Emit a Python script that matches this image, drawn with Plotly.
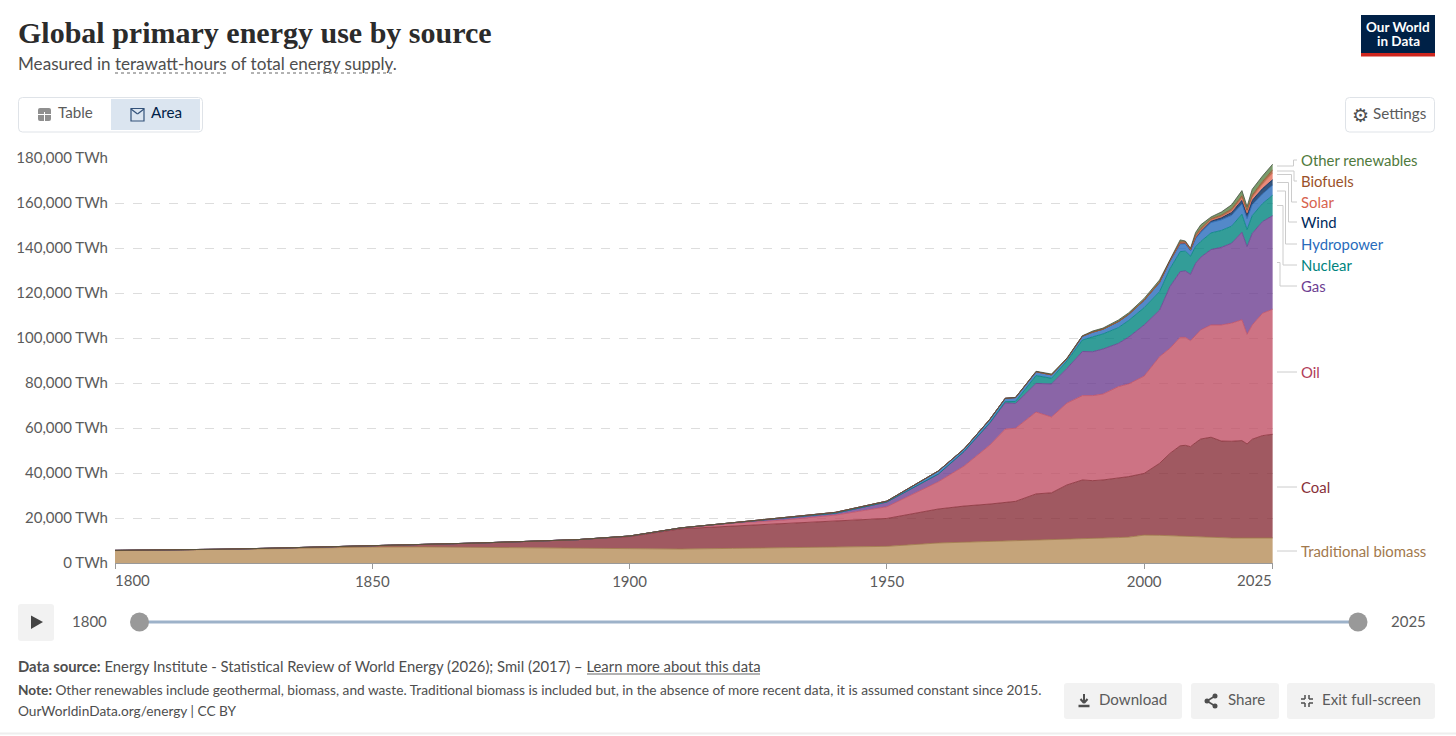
import plotly.graph_objects as go

W, H = 1456, 736

years = [1800, 1810, 1820, 1830, 1840, 1850, 1860, 1870, 1880, 1890, 1900, 1910, 1920, 1930, 1940, 1950, 1960,
         1965, 1970, 1973, 1975, 1979, 1982, 1985, 1988, 1990, 1992, 1995, 1997, 2000, 2003, 2005, 2007, 2008, 2009,
         2010, 2011, 2013, 2015, 2017, 2019, 2020, 2021, 2023, 2025]

biomass = [5500, 5700, 5950, 6300, 6700, 7100, 7150, 6950, 6600, 6350, 6100, 6200, 6500, 6800, 7000, 7400, 8900,
           9200, 9500, 9700, 9900, 10200, 10300, 10500, 10600, 10800, 11000, 11300, 11500, 12400, 12300, 12100, 11900, 11800, 11700,
           11600, 11500, 11300, 11200, 11111, 11111, 11111, 11111, 11111, 11111]
coal = [100, 100, 150, 250, 350, 550, 1000, 1900, 3000, 4050, 5650, 9000, 9900, 10800, 11600, 12400, 15100,
        16100, 16700, 17100, 17500, 20500, 20900, 24200, 26300, 25800, 25900, 26500, 26900, 27400, 32000, 36600, 40200, 40500, 40000,
        41900, 43600, 44600, 43000, 43000, 43300, 41800, 43900, 45500, 46100]
oil = [0, 0, 0, 0, 0, 0, 0, 0, 0, 0, 180, 300, 1150, 1500, 2700, 5200, 12100,
       17800, 26200, 32700, 32500, 36400, 33700, 36400, 37500, 37800, 38200, 40600, 41200, 43300, 47400, 46700, 48200, 48000, 47100,
       47800, 48500, 49900, 51600, 52500, 53700, 48700, 50800, 54400, 55600]
gas = [0, 0, 0, 0, 0, 0, 0, 0, 0, 0, 60, 100, 300, 800, 800, 2100, 3400,
       6400, 9700, 11700, 11000, 12700, 14700, 15400, 19600, 19500, 20000, 19200, 20800, 22700, 20700, 27400, 29200, 29500, 29500,
       31900, 32300, 33500, 34500, 35500, 38900, 39000, 40700, 40700, 41600]
nuclear = [0, 0, 0, 0, 0, 0, 0, 0, 0, 0, 0, 0, 0, 0, 0, 0, 20,
           60, 200, 500, 900, 3500, 2500, 3300, 5100, 6600, 6700, 7000, 7400, 7700, 8200, 7900, 8900, 8800, 8100,
           7400, 7000, 7400, 7500, 7600, 8000, 7600, 7900, 8000, 9100]
hydropower = [0, 0, 0, 0, 0, 0, 0, 0, 0, 0, 10, 30, 50, 200, 400, 400, 1380,
              1130, 1500, 1500, 1700, 1700, 1500, 1000, 1700, 2100, 2100, 2700, 2700, 3200, 4000, 3300, 3400, 3300, 2400,
              3500, 4000, 4600, 4700, 4800, 4600, 4800, 4800, 4300, 4500]
wind = [0, 0, 0, 0, 0, 0, 0, 0, 0, 0, 0, 0, 0, 0, 0, 0, 0,
        0, 0, 0, 0, 0, 0, 0, 0, 0, 0, 0, 0, 50, 100, 200, 350, 350, 300,
        600, 700, 800, 1000, 1300, 1600, 1800, 2000, 2400, 2400]
solar = [0, 0, 0, 0, 0, 0, 0, 0, 0, 0, 0, 0, 0, 0, 0, 0, 0,
         0, 0, 0, 0, 0, 0, 0, 0, 0, 0, 0, 0, 0, 0, 0, 20, 30, 50,
         100, 100, 200, 300, 500, 800, 900, 1100, 1800, 3000]
biofuels = [0, 0, 0, 0, 0, 0, 0, 0, 0, 0, 0, 0, 0, 0, 0, 0, 0,
            0, 10, 0, 0, 0, 0, 0, 0, 0, 0, 0, 0, 100, 200, 200, 550, 500, 300,
            900, 1000, 700, 800, 1000, 1200, 1100, 1200, 1300, 1400]
other_renewables = [0, 0, 0, 0, 0, 0, 0, 0, 0, 0, 0, 0, 0, 0, 0, 0, 0,
                    0, 30, 0, 100, 200, 400, 300, 200, 500, 500, 700, 700, 750, 900, 300, 880, 320, 450,
                    1200, 1600, 800, 1400, 1900, 2300, 1600, 2600, 2500, 2500]

y_ticks = list(range(0, 180001, 20000))
y_labels = ["0 TWh", "20,000 TWh", "40,000 TWh", "60,000 TWh", "80,000 TWh", "100,000 TWh", "120,000 TWh",
            "140,000 TWh", "160,000 TWh", "180,000 TWh"]

names = ["Traditional biomass", "Coal", "Oil", "Gas", "Nuclear", "Hydropower", "Wind", "Solar", "Biofuels", "Other renewables"]
values = [biomass, coal, oil, gas, nuclear, hydropower, wind, solar, biofuels, other_renewables]
colors = ["#b68d59", "#883039", "#c15065", "#6d3e91", "#00847e", "#286bbb", "#00295b", "#e56e5a", "#9a5129", "#578145"]
edge_colors = ["#a07a48", "#883039", "#c15065", "#6d3e91", "#00847e", "#286bbb", "#00295b", "#e56e5a", "#9a5129", "#454f40"]
label_colors = ["#a2794d", "#883039", "#b13c59", "#6d3e91", "#00847e", "#286bbb", "#00295b", "#d7634f", "#9a5129", "#4f7a3d"]

FONT = "Lato, 'Open Sans', sans-serif"
GREY = "#5b5b5b"


def hex_rgba(c, a):
    return f"rgba({int(c[1:3], 16)},{int(c[3:5], 16)},{int(c[5:7], 16)},{a})"


def px(x):
    return x / W


def py(y):
    return 1 - y / H


shapes = []
annotations = []


def rect(x0, y0, x1, y1, fill="rgba(0,0,0,0)", line=None, width=1, r=0):
    # rounded box as a path, in paper fractions
    corners = [
        f"M {px(x0 + r)} {py(y0)} L {px(x1 - r)} {py(y0)} Q {px(x1)} {py(y0)} {px(x1)} {py(y0 + r)}",
        f"L {px(x1)} {py(y1 - r)} Q {px(x1)} {py(y1)} {px(x1 - r)} {py(y1)}",
        f"L {px(x0 + r)} {py(y1)} Q {px(x0)} {py(y1)} {px(x0)} {py(y1 - r)}",
        f"L {px(x0)} {py(y0 + r)} Q {px(x0)} {py(y0)} {px(x0 + r)} {py(y0)} Z",
    ]
    shapes.append(dict(type="path", xref="paper", yref="paper", path=" ".join(corners), fillcolor=fill,
                       line=dict(color=line or "rgba(0,0,0,0)", width=width if line else 0), layer="above"))


def line(x0, y0, x1, y1, color="#ccc", width=1, dash="solid"):
    shapes.append(dict(type="line", xref="paper", yref="paper", x0=px(x0), x1=px(x1), y0=py(y0), y1=py(y1),
                       line=dict(color=color, width=width, dash=dash), layer="above"))


def text(x, y, s, size=14, color=GREY, anchor="left", family=FONT):
    if anchor == "left":
        x -= 1
    annotations.append(dict(xref="paper", yref="paper", x=px(x), y=py(y), text=s, showarrow=False, xanchor=anchor,
                            yanchor="middle", align=anchor, borderpad=0,
                            font=dict(family=family, size=size, color=color)))


fig = go.Figure()
for name, vals, c, e in zip(names, values, colors, edge_colors):
    fig.add_trace(go.Scatter(x=years, y=vals, name=name, mode="lines", stackgroup="one",
                             line=dict(color=e, width=0.8), fillcolor=hex_rgba(c, 0.8), hoverinfo="skip"))

# header
text(18, 32.5, "<b>Global primary energy use by source</b>", size=30, color="#2b2b2b", family="'Liberation Serif', serif")
text(18, 64, "Measured in terawatt-hours of total energy supply.", size=17.1, color="#4e4e4e")
line(115, 73, 227, 73, color="#666", dash="dot")
line(251, 73, 394, 73, color="#666", dash="dot")

# logo
rect(1361, 15, 1435, 53, fill="#002147")
rect(1361, 53, 1435, 56.5, fill="#ce261e")
text(1398, 27, "<b>Our World</b>", size=13.5, color="#ffffff", anchor="center")
text(1398, 41, "<b>in Data</b>", size=13.5, color="#ffffff", anchor="center")

# toggle
rect(18.5, 97.5, 202.5, 132, fill="#ffffff", line="#dfe3e8", r=4)
rect(111, 99, 200, 130, fill="#dbe5f0")
rect(38, 108, 51, 121, fill="#8f8f8f", r=2)
line(38, 114.5, 51, 114.5, color="#ffffff")
line(44.5, 112, 44.5, 121, color="#ffffff")
text(58, 112.5, "Table", size=15.2)
rect(131, 108.5, 144, 121, line="#33527a", width=1.2)
line(131, 109, 137.5, 114, color="#33527a", width=1.2)
line(137.5, 114, 144, 109, color="#33527a", width=1.2)
text(151, 112.5, "Area", size=15.2, color="#002147")

# settings
rect(1345.5, 97.5, 1434.5, 132, fill="#ffffff", line="#dfe3e8", r=4)
text(1352, 114.5, "⚙", size=19, color="#4e4e4e", family="'DejaVu Sans'")
text(1373, 113, "Settings", size=15.2)

# x tick labels at the ends are pulled inside
text(115, 580, "1800", size=15)
text(1272.5, 580, "2025", size=15, anchor="right")

# connectors and series labels
label_y = [551, 487, 372, 286, 265, 244, 222, 202, 181, 160]
start_y = [551, 487, 372, 262.5, 205.5, 191, 182.5, 174.5, 171, 166]
elbow_x = [None, None, None, 1280, 1283, 1285.5, 1288.5, 1291.5, 1294, 1293.5]
for name, ly, sy, ex, c in zip(names, label_y, start_y, elbow_x, label_colors):
    text(1301, ly, name, size=14.9, color=c)
    if ex is None:
        line(1277, ly, 1297, ly)
    else:
        line(1277, sy, ex, sy)
        line(ex, sy, ex, ly)
        line(ex, ly, 1297, ly)

# time slider
rect(18, 604, 54, 641, fill="#f2f2f2", r=3)
shapes.append(dict(type="path", xref="paper", yref="paper", fillcolor="#444444", line=dict(width=0), layer="above",
                   path=f"M {px(31)} {py(615.5)} L {px(43)} {py(622)} L {px(31)} {py(629)} Z"))
text(72, 621, "1800", size=15)
text(1391, 621, "2025", size=15)
line(148, 622, 1350, 622, color="#9db2c9", width=3)
for cx in (139.5, 1358):
    shapes.append(dict(type="circle", xref="paper", yref="paper", x0=px(cx - 9.5), x1=px(cx + 9.5), y0=py(622 + 9.5),
                       y1=py(622 - 9.5), fillcolor="#999999", line=dict(width=0), layer="above"))

# footer
text(18, 666, "<b>Data source:</b> Energy Institute - Statistical Review of World Energy (2026); Smil (2017) – Learn more about this data", size=14.83, color="#4e4e4e")
line(587, 674, 760, 674, color="#666")
text(18, 689.5, "<b>Note:</b> Other renewables include geothermal, biomass, and waste. Traditional biomass is included but, in the absence of more recent data, it is assumed constant since 2015.", size=13.7, color="#4e4e4e")
text(18, 710, "OurWorldinData.org/energy | CC BY", size=13.7, color="#4e4e4e")

rect(1064, 683, 1182, 719, fill="#f2f2f2", r=3)
line(1084, 694, 1084, 702, color="#4e4e4e", width=2)
line(1080.5, 699, 1084, 703, color="#4e4e4e", width=2)
line(1087.5, 699, 1084, 703, color="#4e4e4e", width=2)
line(1078.5, 706, 1089.5, 706, color="#4e4e4e", width=2.5)
text(1099, 698.5, "Download", size=15.1)
rect(1191, 683, 1279, 719, fill="#f2f2f2", r=3)
line(1215, 696, 1207, 701, color="#4e4e4e", width=1.5)
line(1207, 701, 1215, 706, color="#4e4e4e", width=1.5)
for cx, cy in ((1215, 696), (1207, 701), (1215, 706)):
    shapes.append(dict(type="circle", xref="paper", yref="paper", x0=px(cx - 2.5), x1=px(cx + 2.5), y0=py(cy + 2.5),
                       y1=py(cy - 2.5), fillcolor="#4e4e4e", line=dict(width=0), layer="above"))
text(1228, 698.5, "Share", size=15.1)
rect(1287, 683, 1435, 719, fill="#f2f2f2", r=3)
for sx, sy in ((-1, -1), (1, -1), (-1, 1), (1, 1)):
    cx, cy = 1307 + 2 * sx, 701 + 2 * sy
    line(cx, cy, cx + 4 * sx, cy, color="#4e4e4e", width=1.5)
    line(cx, cy, cx, cy + 4 * sy, color="#4e4e4e", width=1.5)
text(1322, 698.5, "Exit full-screen", size=15.1)
line(0, 733.5, 1456, 733.5, color="#eeeeee", width=2)

fig.update_layout(
    width=W, height=H, autosize=False, margin=dict(l=0, r=0, t=0, b=0, autoexpand=False),
    paper_bgcolor="#ffffff", plot_bgcolor="#ffffff", showlegend=False, hovermode=False,
    font=dict(family=FONT, color=GREY), shapes=shapes, annotations=annotations,
)
fig.update_xaxes(domain=[px(115), px(1272.8)], range=[1800, 2025], tickmode="array",
                 tickvals=[1800, 1850, 1900, 1950, 2000, 2025], ticktext=["", "1850", "1900", "1950", "2000", ""],
                 ticks="outside", ticklen=5, tickcolor="#999999", showline=True, linecolor="#999999",
                 showgrid=False, zeroline=False, tickfont=dict(size=15, color=GREY))
fig.update_yaxes(domain=[py(563), py(158)], range=[0, 180000], tickmode="array", tickvals=y_ticks, ticktext=y_labels,
                 showgrid=True, gridcolor="#dddddd", griddash="dash", ticklabelstandoff=6,
                 zeroline=False, showline=False, ticks="", tickfont=dict(size=15, color=GREY))

fig.write_html("out.html", config=dict(displayModeBar=False),
               post_script="document.body.style.margin='0';document.body.style.overflow='hidden';")
